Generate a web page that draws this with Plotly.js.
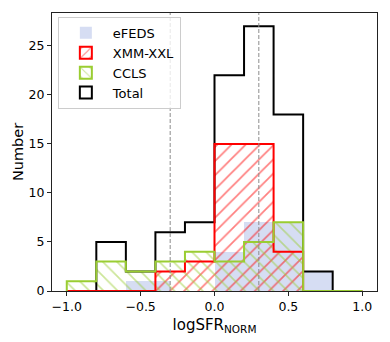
<!DOCTYPE html>
<html>
<head>
<meta charset="utf-8">
<script src="https://cdn.plot.ly/plotly-3.0.1.min.js"></script>
<style>
  html, body { margin: 0; padding: 0; background: #fff; }
  #chart { width: 390px; height: 342px; }
</style>
</head>
<body>
<div id="chart"></div>
<script>
// bin edges shared by XMM-XXL, CCLS and Total
const binEdges = [-1.0, -0.8, -0.6, -0.4, -0.2, 0.0, 0.2, 0.4, 0.6, 0.8, 1.0];
const xmmCounts = [0, 0, 0, 2, 3, 15, 15, 4, 0, 0];
const cclsCounts = [1, 3, 2, 3, 4, 3, 5, 7, 0, 0];
const totalCounts = [0, 5, 2, 6, 7, 22, 27, 18, 2, 0];

// eFEDS was binned on its own edges
const efedsEdges = [-0.6, -0.3, 0.0, 0.2, 0.6, 0.8];
const efedsCounts = [1, 0, 4, 7, 2];

// dashed reference lines
const refLines = [-0.3, 0.3];

const xTicks = [-1.0, -0.5, 0.0, 0.5, 1.0];
const yTicks = [0, 5, 10, 15, 20, 25];

const RED = "#ff0000";
const GREEN = "#9acd32";
const BLUE = "#d6ddf3";

function centers(edges) {
    return edges.slice(0, -1).map((e, i) => (e + edges[i + 1]) / 2);
}
function widths(edges) {
    return edges.slice(0, -1).map((e, i) => edges[i + 1] - e);
}
// matplotlib-like 'step' outline of a histogram
function stepLine(edges, counts) {
    const x = [edges[0]], y = [0];
    counts.forEach((c, i) => { x.push(edges[i]); y.push(c); });
    x.push(edges[edges.length - 1]); y.push(0);
    return { x: x, y: y };
}

const font = "DejaVu Sans, Liberation Sans, sans-serif";
const clear = "rgba(0,0,0,0)";

const efeds = {
    type: "bar", name: "eFEDS",
    x: centers(efedsEdges), y: efedsCounts, width: widths(efedsEdges),
    marker: { color: BLUE, line: { width: 0 } },
    legendrank: 1, hoverinfo: "skip"
};

const totStep = stepLine(binEdges, totalCounts);
const totalLine = {
    type: "scatter", mode: "lines", x: totStep.x, y: totStep.y,
    line: { color: "#000", width: 2, shape: "hv" }, showlegend: false
};

function hatchBars(counts, shape, color) {
    return {
        type: "bar", x: centers(binEdges), y: counts, width: widths(binEdges),
        marker: {
            color: clear, line: { width: 0 },
            pattern: { shape: shape, fgcolor: color, bgcolor: clear, size: 10, solidity: 0.17, fillmode: "overlay" }
        },
        showlegend: false, hoverinfo: "skip"
    };
}

const xmmStep = stepLine(binEdges, xmmCounts);
const xmmLine = {
    type: "scatter", mode: "lines", x: xmmStep.x, y: xmmStep.y,
    line: { color: RED, width: 2, shape: "hv" }, showlegend: false
};
const cclsStep = stepLine(binEdges, cclsCounts);
const cclsLine = {
    type: "scatter", mode: "lines", x: cclsStep.x, y: cclsStep.y,
    line: { color: GREEN, width: 2, shape: "hv" }, showlegend: false
};

// legend-only entries
const legXmm = {
    type: "bar", name: "XMM-XXL", x: [null], y: [null], legendrank: 2,
    marker: { color: clear, line: { color: RED, width: 2 },
        pattern: { shape: "/", fgcolor: RED, bgcolor: clear, size: 8, solidity: 0.17, fillmode: "overlay" } }
};
const legCcls = {
    type: "bar", name: "CCLS", x: [null], y: [null], legendrank: 3,
    marker: { color: clear, line: { color: GREEN, width: 2 },
        pattern: { shape: "\\", fgcolor: GREEN, bgcolor: clear, size: 8, solidity: 0.17, fillmode: "overlay" } }
};
const legTotal = {
    type: "bar", name: "Total", x: [null], y: [null], legendrank: 4,
    marker: { color: "#fff", line: { color: "#000", width: 2 } }
};

const data = [
    efeds, totalLine,
    hatchBars(xmmCounts, "/", RED), xmmLine,
    hatchBars(cclsCounts, "\\", GREEN), cclsLine,
    legXmm, legCcls, legTotal
];

const layout = {
    width: 390, height: 342,
    margin: { l: 52, r: 13, t: 13, b: 51 },
    paper_bgcolor: "#fff", plot_bgcolor: "#fff",
    font: { family: font, size: 12, color: "#000" },
    barmode: "overlay", bargap: 0,
    showlegend: true,
    legend: {
        x: 0.018, y: 0.986, xanchor: "left", yanchor: "top",
        bgcolor: "rgba(255,255,255,0.8)", bordercolor: "#cccccc", borderwidth: 1,
        font: { family: font, size: 13 }, traceorder: "normal",
        itemwidth: 44, tracegroupgap: 0
    },
    xaxis: {
        range: [-1.1, 1.1], tickvals: xTicks, tickformat: ".1f",
        showgrid: false, zeroline: false,
        showline: true, mirror: true, linecolor: "#222", linewidth: 1,
        ticks: "outside", ticklen: 4, tickcolor: "#222",
        tickfont: { size: 12.5 },
        title: { text: "logSFR<sub>NORM</sub>", font: { size: 15 }, standoff: 6 }
    },
    yaxis: {
        range: [0, 28.35], tickvals: yTicks,
        showgrid: false, zeroline: false,
        showline: true, mirror: true, linecolor: "#222", linewidth: 1,
        ticks: "outside", ticklen: 4, tickcolor: "#222",
        tickfont: { size: 12.5 },
        title: { text: "Number", font: { size: 14.5 }, standoff: 1 }
    },
    shapes: refLines.map(v => ({
        type: "line", xref: "x", yref: "paper", x0: v, x1: v, y0: 0, y1: 1,
        line: { color: "#8c8c8c", width: 1, dash: "4px,2px" }, layer: "above"
    }))
};

Plotly.newPlot("chart", data, layout, { staticPlot: true });
</script>
</body>
</html>
